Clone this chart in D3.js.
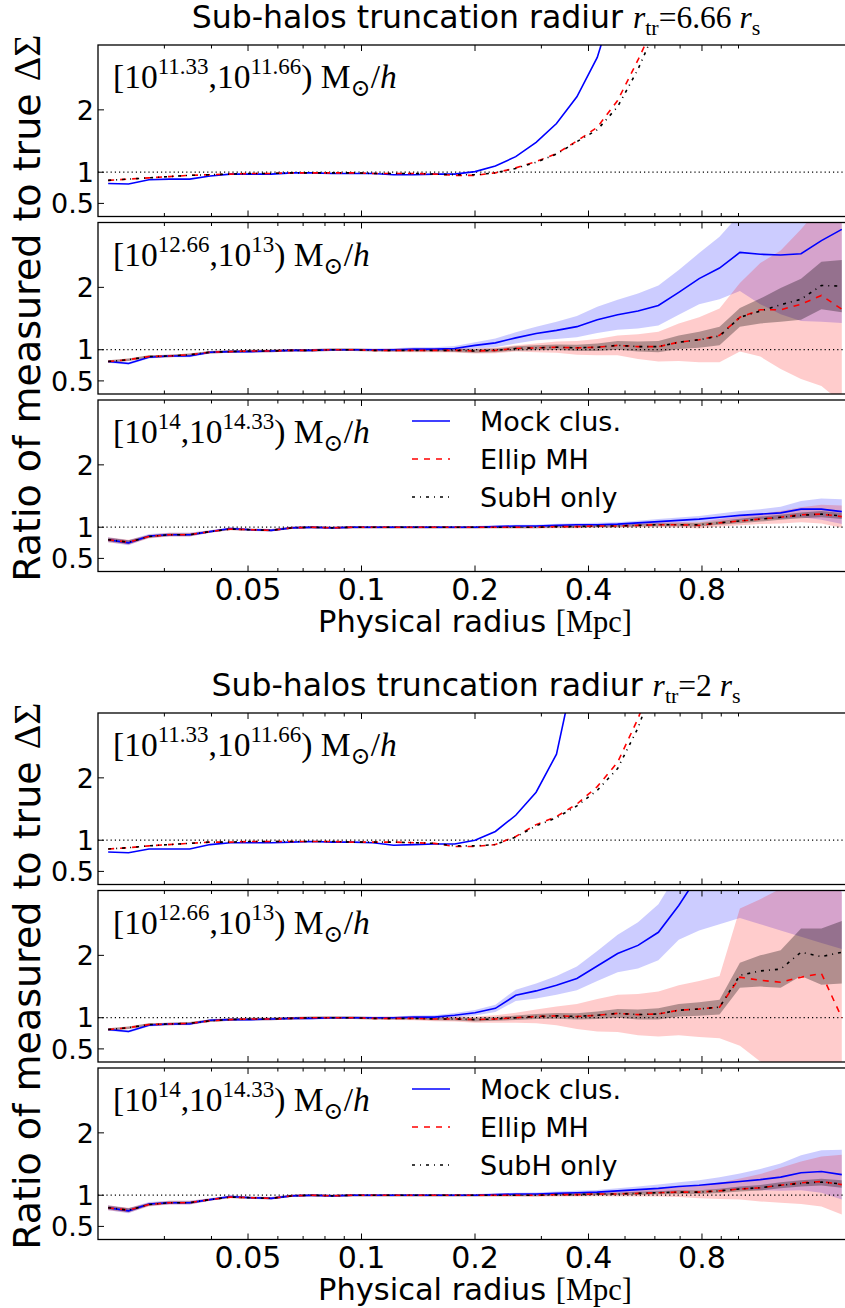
<!DOCTYPE html>
<html>
<head>
<meta charset="utf-8">
<script src="https://cdn.jsdelivr.net/npm/d3@7"></script>
<style>
  body { margin: 0; background: #fff; }
  svg { display: block; font-family: "DejaVu Sans", sans-serif; }
  .serif { font-family: "Liberation Serif", "DejaVu Serif", serif; }
</style>
</head>
<body>
<div id="chart"></div>
<script>
// radial bin centres [Mpc], 37 log bins between 0.02 and 2
var radii = [0.02128,0.02410,0.02730,0.03092,0.03502,0.03966,0.04491,0.05087,0.05761,0.06524,
  0.07389,0.08369,0.09478,0.1073,0.1216,0.1377,0.1559,0.1766,0.2000,0.2265,
  0.2565,0.2905,0.3290,0.3726,0.4220,0.4779,0.5412,0.6130,0.6942,0.7862,
  0.8905,1.0085,1.1421,1.2935,1.4650,1.6592,1.8791];

var xTickVals = [0.05, 0.1, 0.2, 0.4, 0.8];
var xTickLabels = ["0.05", "0.1", "0.2", "0.4", "0.8"];
var xMinorVals = [0.03, 0.04, 0.06, 0.07, 0.08, 0.09, 0.3, 0.5, 0.6, 0.7, 0.9, 1.0];
var yTickVals = [0.5, 1, 2];
var yTickLabels = ["0.5", "1", "2"];

var figTitles = ["6.66", "2"];
var binLow = ["11.33", "12.66", "14"];
var binHigh = ["11.66", "13", "14.33"];
var legendNames = ["Mock clus.", "Ellip MH", "SubH only"];

// ---- r_tr = 6.66 r_s ----
var f1p1Mock = [0.82,0.81,0.88,0.89,0.89,0.94,0.97,0.97,0.97,0.99,0.99,0.98,0.98,0.98,0.96,0.96,0.97,0.97,1.01,1.10,
  1.25,1.48,1.78,2.21,2.84,3.9,null,null,null,null,null,null,null,null,null,null,null];
var f1p1Ellip = [0.87,0.89,0.91,0.93,0.95,0.96,0.97,0.98,0.98,0.99,0.99,0.99,0.99,0.98,0.98,0.98,0.97,0.95,0.95,0.99,
  1.07,1.17,1.30,1.50,1.72,2.15,2.80,3.5,null,null,null,null,null,null,null,null,null];
var f1p1SubH = [0.87,0.89,0.91,0.93,0.95,0.96,0.97,0.98,0.98,0.99,0.99,0.99,0.99,0.98,0.98,0.98,0.97,0.96,0.96,0.99,
  1.06,1.16,1.29,1.49,1.68,2.05,2.65,3.4,null,null,null,null,null,null,null,null,null];

var f1p2Mock = [0.81,0.78,0.88,0.90,0.90,0.96,0.97,0.97,0.98,0.99,0.99,1.00,1.00,1.00,1.00,1.01,1.01,1.02,1.07,1.11,
  1.19,1.26,1.31,1.37,1.48,1.56,1.62,1.71,1.92,2.14,2.31,2.56,2.53,2.52,2.54,2.75,2.93];
var f1p2MockErr = [0.02,0.02,0.02,0.02,0.02,0.02,0.02,0.02,0.02,0.02,0.02,0.02,0.02,0.02,0.025,0.03,0.03,0.04,0.05,0.07,
  0.09,0.11,0.14,0.17,0.21,0.24,0.28,0.32,0.36,0.41,0.5,0.62,0.8,0.95,1.08,1.3,1.5];
var f1p2Ellip = [0.81,0.84,0.89,0.90,0.92,0.96,0.97,0.98,0.98,0.99,0.99,1.00,1.00,0.99,0.99,0.99,0.99,0.99,0.98,0.99,
  1.02,1.03,1.04,1.03,1.04,1.07,1.05,1.05,1.12,1.16,1.23,1.52,1.64,1.64,1.73,1.87,1.65];
var f1p2EllipErr = [0.02,0.02,0.02,0.02,0.02,0.02,0.02,0.02,0.02,0.02,0.02,0.02,0.02,0.02,0.025,0.03,0.03,0.035,0.04,0.045,
  0.05,0.07,0.09,0.11,0.13,0.16,0.2,0.24,0.3,0.36,0.43,0.55,0.75,0.95,1.2,1.45,1.5];
var f1p2SubH = [0.81,0.84,0.89,0.90,0.92,0.96,0.97,0.98,0.98,0.99,0.99,1.00,1.00,0.99,0.99,0.99,0.99,0.99,0.98,0.99,
  1.02,1.03,1.04,1.03,1.04,1.07,1.05,1.05,1.12,1.16,1.22,1.52,1.62,1.72,1.81,2.03,2.02];
var f1p2SubHErr = [0.02,0.02,0.02,0.02,0.02,0.02,0.02,0.02,0.02,0.02,0.02,0.02,0.02,0.02,0.02,0.02,0.02,0.025,0.03,0.03,
  0.035,0.04,0.045,0.05,0.06,0.07,0.08,0.09,0.11,0.13,0.15,0.15,0.2,0.27,0.33,0.38,0.42];

var f1p3Mock = [0.80,0.75,0.86,0.88,0.88,0.93,0.98,0.96,0.95,0.99,1.00,0.99,1.00,1.00,1.00,1.00,1.00,1.00,1.00,1.01,
  1.02,1.02,1.03,1.04,1.04,1.05,1.07,1.09,1.11,1.13,1.16,1.19,1.21,1.23,1.29,1.29,1.25];
var f1p3MockErr = [0.04,0.04,0.03,0.03,0.03,0.02,0.02,0.02,0.02,0.02,0.02,0.02,0.02,0.02,0.02,0.02,0.02,0.02,0.02,0.02,
  0.02,0.02,0.025,0.025,0.03,0.03,0.035,0.04,0.045,0.05,0.06,0.07,0.08,0.1,0.13,0.17,0.2];
var f1p3Ellip = [0.80,0.76,0.85,0.88,0.88,0.93,0.97,0.96,0.95,0.99,1.00,0.99,1.00,1.00,1.00,1.00,1.00,1.00,1.00,1.00,
  1.00,1.00,1.01,1.01,1.02,1.02,1.03,1.04,1.04,1.03,1.07,1.10,1.13,1.16,1.20,1.21,1.17];
var f1p3EllipErr = [0.04,0.04,0.03,0.03,0.03,0.02,0.02,0.02,0.02,0.02,0.02,0.02,0.02,0.02,0.02,0.02,0.02,0.02,0.02,0.02,
  0.02,0.02,0.025,0.025,0.03,0.03,0.035,0.04,0.045,0.05,0.06,0.07,0.08,0.1,0.12,0.15,0.18];
var f1p3SubH = [0.80,0.76,0.85,0.88,0.88,0.93,0.97,0.96,0.95,0.99,1.00,0.99,1.00,1.00,1.00,1.00,1.00,1.00,1.00,1.00,
  1.00,1.00,1.01,1.01,1.02,1.02,1.03,1.04,1.04,1.04,1.07,1.10,1.13,1.16,1.19,1.21,1.18];
var f1p3SubHErr = [0.03,0.03,0.02,0.02,0.02,0.015,0.015,0.015,0.015,0.015,0.015,0.015,0.015,0.015,0.015,0.015,0.015,0.015,0.015,0.015,
  0.015,0.015,0.015,0.015,0.02,0.02,0.02,0.025,0.025,0.03,0.03,0.035,0.04,0.04,0.045,0.05,0.05];

// ---- r_tr = 2 r_s ----
var f2p1Mock = [0.81,0.80,0.86,0.86,0.86,0.93,0.96,0.96,0.96,0.97,0.98,0.97,0.97,0.96,0.92,0.93,0.94,0.94,1.00,1.14,
  1.40,1.77,2.38,3.9,null,null,null,null,null,null,null,null,null,null,null,null,null];
var f2p1Ellip = [0.86,0.88,0.91,0.93,0.95,0.97,0.97,0.98,0.98,0.98,0.98,0.98,0.97,0.97,0.97,0.96,0.95,0.90,0.90,0.93,
  1.06,1.25,1.38,1.58,1.86,2.25,2.95,3.8,null,null,null,null,null,null,null,null,null];
var f2p1SubH = [0.86,0.88,0.91,0.93,0.95,0.97,0.97,0.98,0.98,0.98,0.98,0.98,0.97,0.97,0.97,0.96,0.95,0.91,0.91,0.93,
  1.05,1.23,1.36,1.55,1.80,2.15,2.80,3.7,null,null,null,null,null,null,null,null,null];

var f2p2Mock = [0.81,0.78,0.88,0.90,0.90,0.96,0.97,0.97,0.98,0.99,0.99,1.00,1.00,1.00,1.00,1.01,1.01,1.04,1.08,1.15,
  1.36,1.43,1.52,1.63,1.83,2.03,2.16,2.37,2.80,3.3,3.8,4.3,4.8,5.3,5.8,6.3,6.8];
var f2p2MockErr = [0.02,0.02,0.02,0.02,0.02,0.02,0.02,0.02,0.02,0.02,0.02,0.02,0.02,0.02,0.02,0.025,0.03,0.035,0.045,0.06,
  0.09,0.12,0.15,0.19,0.24,0.3,0.37,0.45,0.55,0.9,1.3,1.7,2.3,2.9,3.5,4.1,4.7];
var f2p2Ellip = [0.81,0.84,0.89,0.90,0.91,0.95,0.97,0.98,0.98,0.99,1.00,1.00,1.00,0.99,0.99,0.99,0.98,0.98,0.97,0.98,
  1.00,1.02,1.03,1.02,1.04,1.07,1.05,1.06,1.12,1.14,1.17,1.65,1.60,1.57,1.65,1.71,1.00];
var f2p2EllipErr = [0.02,0.02,0.02,0.02,0.02,0.02,0.02,0.02,0.02,0.02,0.02,0.02,0.02,0.02,0.025,0.03,0.035,0.04,0.05,0.06,
  0.08,0.11,0.15,0.2,0.26,0.3,0.33,0.36,0.4,0.45,0.5,1.1,1.3,1.5,1.7,1.9,2.0];
var f2p2SubH = [0.81,0.84,0.89,0.90,0.91,0.95,0.97,0.98,0.98,0.99,1.00,1.00,1.00,0.99,0.99,0.99,0.98,0.98,0.97,0.98,
  1.00,1.02,1.03,1.02,1.04,1.07,1.05,1.06,1.12,1.14,1.17,1.68,1.75,1.78,2.05,1.98,2.05];
var f2p2SubHErr = [0.02,0.02,0.02,0.02,0.02,0.02,0.02,0.02,0.02,0.02,0.02,0.02,0.02,0.02,0.02,0.02,0.02,0.025,0.03,0.03,
  0.035,0.04,0.045,0.05,0.06,0.07,0.08,0.09,0.1,0.11,0.12,0.2,0.25,0.3,0.38,0.45,0.5];

var f2p3Mock = [0.80,0.75,0.86,0.88,0.88,0.93,0.98,0.96,0.95,0.99,1.00,0.99,1.00,1.00,1.00,1.00,1.00,1.00,1.00,1.01,
  1.02,1.02,1.03,1.04,1.05,1.07,1.09,1.11,1.14,1.16,1.19,1.22,1.25,1.29,1.36,1.38,1.33];
var f2p3MockErr = [0.04,0.04,0.03,0.03,0.03,0.02,0.02,0.02,0.02,0.02,0.02,0.02,0.02,0.02,0.02,0.02,0.02,0.02,0.02,0.02,
  0.02,0.025,0.03,0.03,0.035,0.04,0.05,0.06,0.07,0.08,0.1,0.13,0.17,0.22,0.28,0.34,0.4];
var f2p3Ellip = [0.80,0.76,0.85,0.88,0.88,0.93,0.97,0.96,0.95,0.99,1.00,0.99,1.00,1.00,1.00,1.00,1.00,1.00,1.00,1.00,
  1.00,1.00,1.01,1.01,1.02,1.02,1.03,1.04,1.05,1.05,1.07,1.10,1.12,1.16,1.20,1.22,1.17];
var f2p3EllipErr = [0.04,0.04,0.03,0.03,0.03,0.02,0.02,0.02,0.02,0.02,0.02,0.02,0.02,0.02,0.02,0.02,0.02,0.02,0.02,0.02,
  0.02,0.025,0.03,0.03,0.035,0.04,0.05,0.06,0.08,0.1,0.13,0.17,0.22,0.28,0.34,0.4,0.48];
var f2p3SubH = [0.80,0.76,0.85,0.88,0.88,0.93,0.97,0.96,0.95,0.99,1.00,0.99,1.00,1.00,1.00,1.00,1.00,1.00,1.00,1.00,
  1.00,1.00,1.01,1.01,1.02,1.02,1.03,1.04,1.05,1.05,1.07,1.10,1.12,1.16,1.19,1.21,1.18];
var f2p3SubHErr = [0.03,0.03,0.02,0.02,0.02,0.015,0.015,0.015,0.015,0.015,0.015,0.015,0.015,0.015,0.015,0.015,0.015,0.015,0.015,0.015,
  0.015,0.015,0.015,0.02,0.02,0.02,0.025,0.025,0.03,0.03,0.035,0.04,0.045,0.05,0.05,0.055,0.06];

// panels table built from the arrays above
var panels = [
  {fig: 0, row: 0, mock: f1p1Mock, ellip: f1p1Ellip, subh: f1p1SubH},
  {fig: 0, row: 1, mock: f1p2Mock, ellip: f1p2Ellip, subh: f1p2SubH, mockErr: f1p2MockErr, ellipErr: f1p2EllipErr, subhErr: f1p2SubHErr},
  {fig: 0, row: 2, mock: f1p3Mock, ellip: f1p3Ellip, subh: f1p3SubH, mockErr: f1p3MockErr, ellipErr: f1p3EllipErr, subhErr: f1p3SubHErr},
  {fig: 1, row: 0, mock: f2p1Mock, ellip: f2p1Ellip, subh: f2p1SubH},
  {fig: 1, row: 1, mock: f2p2Mock, ellip: f2p2Ellip, subh: f2p2SubH, mockErr: f2p2MockErr, ellipErr: f2p2EllipErr, subhErr: f2p2SubHErr},
  {fig: 1, row: 2, mock: f2p3Mock, ellip: f2p3Ellip, subh: f2p3SubH, mockErr: f2p3MockErr, ellipErr: f2p3EllipErr, subhErr: f2p3SubHErr}
];

var width = 845, height = 1308;
var figTop = [0, 668];
var rowTop = [45, 222.5, 400];
var panelH = 171.5;
var left = 98, right = 852;

var svg = d3.select("#chart").append("svg")
  .attr("width", width).attr("height", height);

var x = d3.scaleLog().domain([0.02, 2]).range([left, right]);

var styles = {
  mock:  {stroke: "#0000ff", dash: null, band: "#0000ff", op: 0.2},
  ellip: {stroke: "#ff0000", dash: "6,6", band: "#ff0000", op: 0.2},
  subh:  {stroke: "#000000", dash: "3,5,1,5", band: "#000000", op: 0.3}
};
var order = ["mock", "ellip", "subh"];

panels.forEach(function(p, k) {
  var top = figTop[p.fig] + rowTop[p.row];
  var y = d3.scaleLinear().domain([0.29, 3.04]).range([top + panelH, top]);
  var g = svg.append("g");

  g.append("clipPath").attr("id", "clip" + k)
    .append("rect").attr("x", left).attr("y", top)
    .attr("width", right - left).attr("height", panelH);
  var plot = g.append("g").attr("clip-path", "url(#clip" + k + ")");

  // error bands
  order.forEach(function(s) {
    var err = p[s + "Err"];
    if (!err) return;
    var vals = p[s];
    var area = d3.area()
      .defined(function(d, i) { return vals[i] != null; })
      .x(function(d, i) { return x(radii[i]); })
      .y0(function(d, i) { return y(vals[i] - err[i]); })
      .y1(function(d, i) { return y(vals[i] + err[i]); });
    plot.append("path").datum(radii)
      .attr("d", area)
      .attr("fill", styles[s].band)
      .attr("fill-opacity", styles[s].op)
      .attr("stroke", "none");
  });

  // reference line at 1
  plot.append("line")
    .attr("x1", left).attr("x2", right)
    .attr("y1", y(1)).attr("y2", y(1))
    .attr("stroke", "#000").attr("stroke-width", 1.2)
    .attr("stroke-dasharray", "1.2,3");

  order.forEach(function(s) {
    var vals = p[s];
    var line = d3.line()
      .defined(function(d, i) { return vals[i] != null; })
      .x(function(d, i) { return x(radii[i]); })
      .y(function(d, i) { return y(vals[i]); });
    plot.append("path").datum(radii)
      .attr("d", line)
      .attr("fill", "none")
      .attr("stroke", styles[s].stroke)
      .attr("stroke-width", 1.6)
      .attr("stroke-dasharray", styles[s].dash);
  });

  // frame
  g.append("rect").attr("x", left).attr("y", top)
    .attr("width", right - left).attr("height", panelH)
    .attr("fill", "none").attr("stroke", "#000").attr("stroke-width", 1.3);

  // inward ticks on all four sides
  var bottom = top + panelH;
  var tickG = g.append("g").attr("stroke", "#000").attr("stroke-width", 1);
  xTickVals.concat(xMinorVals).forEach(function(v, i) {
    var len = i < xTickVals.length ? 6 : 3.5;
    tickG.append("line").attr("x1", x(v)).attr("x2", x(v)).attr("y1", bottom).attr("y2", bottom - len);
    tickG.append("line").attr("x1", x(v)).attr("x2", x(v)).attr("y1", top).attr("y2", top + len);
  });
  yTickVals.forEach(function(v, i) {
    tickG.append("line").attr("x1", left).attr("x2", left + 6).attr("y1", y(v)).attr("y2", y(v));
    tickG.append("line").attr("x1", right).attr("x2", right - 6).attr("y1", y(v)).attr("y2", y(v));
    g.append("text").attr("x", left - 4).attr("y", y(v)).attr("dy", "0.36em")
      .attr("text-anchor", "end").attr("font-size", 27).text(yTickLabels[i]);
  });

  // mass bin label
  var lab = g.append("text").attr("class", "serif")
    .attr("x", 113).attr("y", top + 43).attr("font-size", 33.5);
  lab.append("tspan").text("[10");
  lab.append("tspan").attr("font-size", 23).attr("dy", -14).text(binLow[p.row]);
  lab.append("tspan").attr("dy", 14).text(",10");
  lab.append("tspan").attr("font-size", 23).attr("dy", -14).text(binHigh[p.row]);
  lab.append("tspan").attr("dy", 14).text(") M");
  lab.append("tspan").attr("font-size", 24).attr("dy", 8).text("\u2299");
  lab.append("tspan").attr("dy", -8).text("/");
  lab.append("tspan").attr("font-style", "italic").text("h");

  if (p.row === 2) {
    xTickVals.forEach(function(v, i) {
      g.append("text").attr("x", x(v)).attr("y", bottom + 28)
        .attr("text-anchor", "middle").attr("font-size", 30).text(xTickLabels[i]);
    });
    var xl = g.append("text").attr("x", (left + right) / 2).attr("y", bottom + 60)
      .attr("text-anchor", "middle").attr("font-size", 30.5);
    xl.append("tspan").text("Physical radius ");
    xl.append("tspan").attr("class", "serif").text("[Mpc]");

    // legend
    order.forEach(function(s, i) {
      var ly = top + 21 + i * 38;
      g.append("line").attr("x1", 412).attr("x2", 450).attr("y1", ly).attr("y2", ly)
        .attr("stroke", styles[s].stroke).attr("stroke-width", 1.6)
        .attr("stroke-dasharray", styles[s].dash);
      g.append("text").attr("x", 480).attr("y", ly).attr("dy", "0.36em")
        .attr("font-size", 27).text(legendNames[i]);
    });
  }

  if (p.row === 0) {
    var t = g.append("text").attr("x", 476).attr("y", top - 17)
      .attr("text-anchor", "middle").attr("font-size", 31.5);
    t.append("tspan").text("Sub-halos truncation radiur ");
    t.append("tspan").attr("class", "serif").attr("font-style", "italic").text("r");
    t.append("tspan").attr("class", "serif").attr("font-size", 22).attr("dy", 7).text("tr");
    t.append("tspan").attr("class", "serif").attr("dy", -7).text("=" + figTitles[p.fig] + " ");
    t.append("tspan").attr("class", "serif").attr("font-style", "italic").text("r");
    t.append("tspan").attr("class", "serif").attr("font-size", 22).attr("dy", 7).text("s");

    // y label spanning the three panels
    var cy = figTop[p.fig] + (rowTop[0] + rowTop[2] + panelH) / 2;
    var yl = svg.append("text").attr("transform", "translate(40," + cy + ") rotate(-90)")
      .attr("text-anchor", "middle").attr("font-size", 38);
    yl.append("tspan").text("Ratio of measured to true ");
    yl.append("tspan").attr("class", "serif").text("\u0394\u03a3");
  }
});
</script>
</body>
</html>
